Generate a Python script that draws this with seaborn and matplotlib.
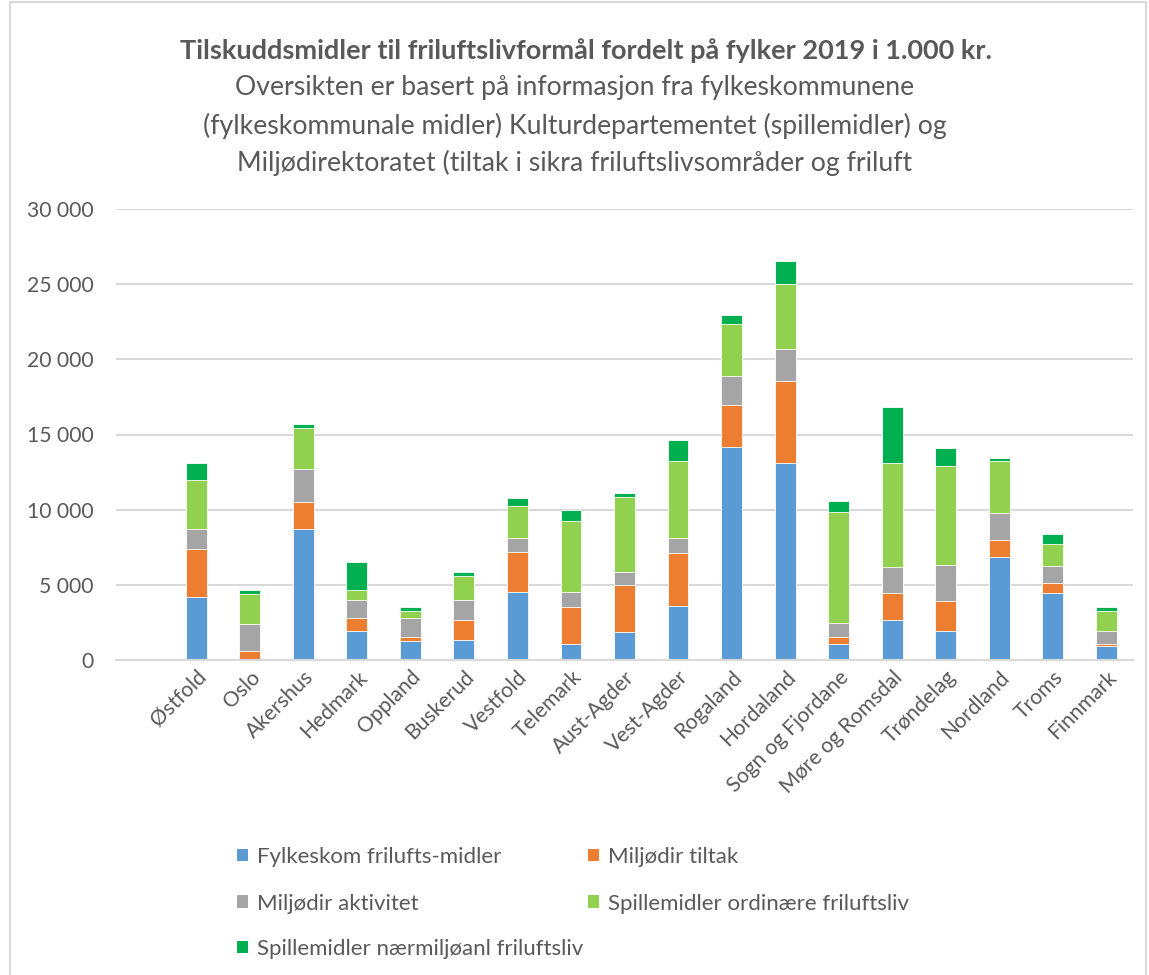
import pandas as pd
import matplotlib.pyplot as plt
import seaborn as sns
import matplotlib.ticker as ticker
from matplotlib.patches import Patch, Rectangle

# ==========================================
# 1. DATA (1.000 kr.)
# ==========================================
fylker = ["Østfold", "Oslo", "Akershus", "Hedmark", "Oppland", "Buskerud",
          "Vestfold", "Telemark", "Aust-Agder", "Vest-Agder", "Rogaland",
          "Hordaland", "Sogn og Fjordane", "Møre og Romsdal", "Trøndelag",
          "Nordland", "Troms", "Finnmark"]

fylkeskom = [4220, 0, 8710, 1960, 1270, 1330, 4510, 1090, 1840, 3580, 14180,
             13110, 1040, 2680, 1950, 6860, 4490, 950]
miljodir_tiltak = [3160, 600, 1780, 840, 290, 1310, 2670, 2440, 3140, 3530, 2750,
                   5420, 470, 1810, 1990, 1150, 600, 130]
miljodir_aktivitet = [1330, 1800, 2220, 1160, 1260, 1340, 930, 980, 860, 1000, 1980,
                      2180, 980, 1700, 2410, 1770, 1170, 820]
spill_ordinaere = [3290, 1980, 2710, 710, 470, 1580, 2160, 4710, 4980, 5160, 3420,
                   4330, 7330, 6930, 6530, 3430, 1480, 1350]
spill_naermiljo = [1110, 290, 310, 1870, 220, 280, 530, 740, 270, 1350, 600,
                   1490, 740, 3740, 1240, 240, 640, 290]

serie_navn = ["Fylkeskom frilufts-midler", "Miljødir tiltak", "Miljødir aktivitet",
              "Spillemidler ordinære friluftsliv", "Spillemidler nærmiljøanl friluftsliv"]
farger = ["#5B9BD5", "#ED7D31", "#A5A5A5", "#92D050", "#00B050"]

df = pd.DataFrame({
    "Fylke": fylker,
    serie_navn[0]: fylkeskom,
    serie_navn[1]: miljodir_tiltak,
    serie_navn[2]: miljodir_aktivitet,
    serie_navn[3]: spill_ordinaere,
    serie_navn[4]: spill_naermiljo,
})

# kumulative summer -> stablede soyler
cum = df[serie_navn].cumsum(axis=1)
cum["Fylke"] = df["Fylke"]

# ==========================================
# 2. PLOT
# ==========================================
sns.set_theme(style="white")
plt.rcParams['font.family'] = ['Lato', 'DejaVu Sans']
tekst = "#595959"
grid_farge = "#D9D9D9"

fig = plt.figure(figsize=(11.49, 9.75), dpi=100)
ax = fig.add_axes([116 / 1149, 1 - 660 / 975, (1133 - 116) / 1149, (660 - 209) / 975])

# tegn fra toppen og ned slik at lagene blir synlige
for navn, farge in reversed(list(zip(serie_navn, farger))):
    sns.barplot(data=cum, x="Fylke", y=navn, color=farge, width=0.39,
                saturation=1, ax=ax, edgecolor="white", linewidth=0.6)

ax.set_xlim(-1.5, len(fylker) - 0.5)
ax.set_ylim(0, 30000)
ax.yaxis.set_major_locator(ticker.MultipleLocator(5000))
ax.yaxis.set_major_formatter(ticker.FuncFormatter(lambda v, p: f"{int(v):,}".replace(",", " ")))
ax.set_xlabel("")
ax.set_ylabel("")
ax.grid(axis="y", color=grid_farge, linewidth=1.5)
ax.set_axisbelow(True)
for s in ["top", "left", "right"]:
    ax.spines[s].set_visible(False)
ax.spines["bottom"].set_color(grid_farge)
ax.spines["bottom"].set_linewidth(1.5)
ax.tick_params(axis="both", length=0, colors=tekst, labelsize=15.2)
ax.tick_params(axis="y", pad=16)
ax.tick_params(axis="x", pad=5)
plt.setp(ax.get_xticklabels(), rotation=45, ha="right", rotation_mode="anchor")

# --- Tittel ---
fig.text(586 / 1149, 1 - 51 / 975, "Tilskuddsmidler til friluftslivformål fordelt på fylker 2019 i 1.000 kr.",
         ha="center", va="center", fontsize=19.5, fontweight="bold", color=tekst)
undertittel = ["Oversikten er basert på informasjon fra fylkeskommunene",
               "(fylkeskommunale midler) Kulturdepartementet (spillemidler) og",
               "Miljødirektoratet (tiltak i sikra friluftslivsområder og friluft"]
for i, linje in enumerate(undertittel):
    fig.text(575 / 1149, 1 - (88 + 37.5 * i) / 975, linje, ha="center", va="center",
             fontsize=19.2, color=tekst)

# --- Legende ---
h = [Patch(facecolor=c, edgecolor="none") for c in farger]
rekkef = [0, 2, 1, 3]
leg_kw = dict(frameon=False, fontsize=16, handlelength=0.5, handleheight=0.5,
              handletextpad=0.4, borderpad=0, borderaxespad=0, labelcolor=tekst)
leg1 = fig.legend([h[i] for i in rekkef], [serie_navn[i] for i in rekkef], ncol=2,
                  loc="upper left", bbox_to_anchor=(237 / 1149, 1 - 847 / 975),
                  labelspacing=1.2, columnspacing=3.9, **leg_kw)
leg2 = fig.legend([h[4]], [serie_navn[4]], loc="upper left",
                  bbox_to_anchor=(237 / 1149, 1 - 939 / 975), **leg_kw)

# ramme rundt diagramomradet
fig.patches.append(Rectangle((10 / 1149, -0.01), 1136 / 1149, 1.0 - 2 / 975 + 0.01,
                             transform=fig.transFigure, fill=False,
                             edgecolor=grid_farge, linewidth=1.5))

plt.savefig("out.png", dpi=100)
